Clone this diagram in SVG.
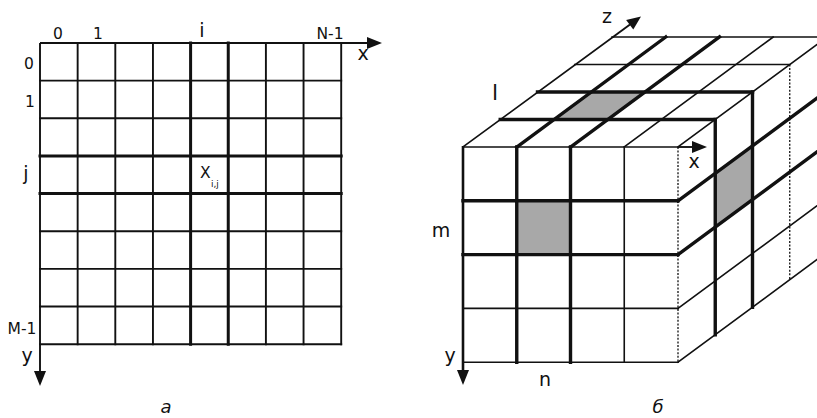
<svg xmlns="http://www.w3.org/2000/svg" width="817" height="418" viewBox="0 0 817 418">
<defs>
<style>
.ln{stroke:#111;stroke-linecap:square;fill:none}
.g{stroke-width:1.9}
.gt{stroke-width:3}
.t{stroke-width:1.6}
.k{stroke-width:3.4}
.d{stroke-width:1.3;stroke-dasharray:2 1.6;stroke-linecap:butt}
.ax{stroke:#111;stroke-width:1.9;fill:none}
.ah{fill:#111;stroke:none}
.shade{fill:#a8a8a8;stroke:none}
text{font-family:"DejaVu Sans","Liberation Sans",sans-serif;fill:#111}
.n14{font-size:15.5px}
.n17{font-size:19px}
.it{font-size:18px;font-style:italic}
</style>
</defs>
<rect width="817" height="418" fill="#fff"/>

<g id="grid-a">
  <g id="grid-a-lines">
    <path class="ln g" d="M77.65 43V344.2M115.3 43V344.2M152.95 43V344.2M265.9 43V344.2M303.55 43V344.2M341.2 43V344.2"/>
    <path class="ln g" d="M40 80.65H341.2M40 118.3H341.2M40 231.25H341.2M40 268.9H341.2M40 306.55H341.2M40 344.2H341.2"/>
    <path class="ln gt" d="M190.6 43V344.2M228.25 43V344.2M40 155.95H341.2M40 193.6H341.2"/>
  </g>
  <g id="grid-a-axes">
    <path class="ax" d="M40 43H370"/>
    <polygon class="ah" points="367,37 382,43 367,49"/>
    <path class="ax" d="M40 43V373"/>
    <polygon class="ah" points="34,371 40,386 46,371"/>
  </g>
  <g id="grid-a-labels">
    <text class="n14" x="58" y="38.5" text-anchor="middle">0</text>
    <text class="n14" x="98" y="38.5" text-anchor="middle">1</text>
    <text class="n17" x="202" y="37" text-anchor="middle">i</text>
    <text class="n14" x="330" y="38.5" text-anchor="middle">N-1</text>
    <text class="n17" x="363" y="60" text-anchor="middle">x</text>
    <text class="n14" x="29" y="68.5" text-anchor="middle">0</text>
    <text class="n14" x="30" y="107" text-anchor="middle">1</text>
    <text class="n17" x="26" y="180" text-anchor="middle">j</text>
    <text class="n14" x="22" y="334" text-anchor="middle">M-1</text>
    <text class="n17" x="27" y="362" text-anchor="middle">y</text>
    <text class="n14" x="200" y="177.5">X</text>
    <text x="211" y="187" style="font-size:9px">i,j</text>
    <text class="it" x="166" y="413" text-anchor="middle">а</text>
  </g>
</g>

<g id="cube-b">
  <g id="cube-b-shading">
    <rect class="shade" x="516.75" y="200.8" width="53.75" height="53.8"/>
    <polygon class="shade" points="554,119.5 607.75,119.5 645,92 591.25,92"/>
    <polygon class="shade" points="715.25,173.3 752.5,145.8 752.5,199.6 715.25,227.1"/>
  </g>
  <g id="cube-b-top">
    <path class="ln t" d="M463 147L613 37M624.25 147L773.25 37M678 147L827 37"/>
    <path class="ln k" d="M516.75 147L665.75 37M570.5 147L719.5 37"/>
    <path class="ln t" d="M463 147H678M574.75 64.5H789.75M612 37H827"/>
    <path class="ln k" d="M500.25 119.5H715.25M537.5 92H752.5"/>
  </g>
  <g id="cube-b-right">
    <path class="ln d" d="M678 147V362.2M789.75 64.5V279.7"/>
    <path class="ln k" d="M715.25 119.5V334.7M752.5 92V307.2"/>
    <path class="ln k" d="M678 200.8L827 90.8M678 254.6L827 144.6"/>
    <path class="ln t" d="M678 308.4L827 198.4M678 362.2L827 252.2"/>
  </g>
  <g id="cube-b-front">
    <path class="ln t" d="M624.25 147V362.2M463 308.4H678M463 362.2H678"/>
    <path class="ln k" d="M516.75 147V362.2M570.5 147V362.2M463 200.8H678M463 254.6H678"/>
  </g>
  <g id="cube-b-axes">
    <path class="ax" d="M678 147H694"/>
    <polygon class="ah" points="692,141 707,147 692,153"/>
    <path class="ax" style="stroke-width:2.6" d="M463 146V372"/>
    <polygon class="ah" points="457,370 463,385 469,370"/>
    <path class="ax" d="M613 37L630 24.5"/>
    <polygon class="ah" points="626.1,20 641,16.5 633.3,29.6"/>
  </g>
  <g id="cube-b-labels">
    <text class="n17" x="694" y="168" text-anchor="middle">x</text>
    <text class="n17" x="607" y="23" text-anchor="middle">z</text>
    <text x="495" y="100" text-anchor="middle" style="font-size:22px">l</text>
    <text class="n17" x="441" y="237" text-anchor="middle">m</text>
    <text class="n17" x="450" y="362" text-anchor="middle">y</text>
    <text class="n17" x="545" y="386" text-anchor="middle">n</text>
    <text class="it" x="658" y="413" text-anchor="middle">б</text>
  </g>
</g>
</svg>
